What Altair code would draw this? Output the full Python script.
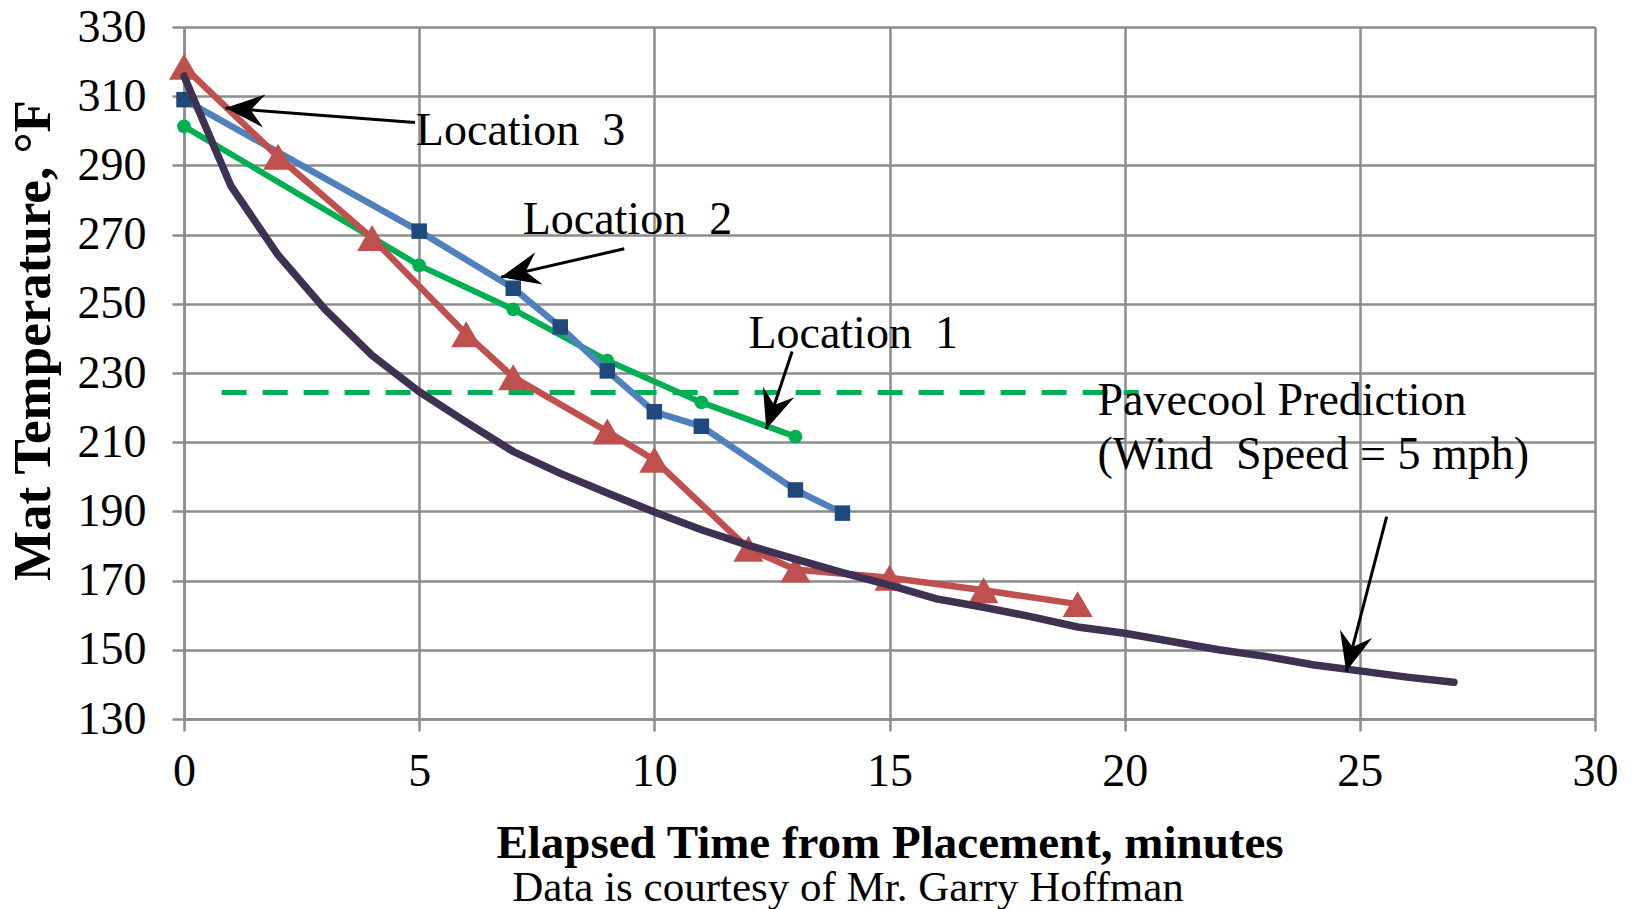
import math
import altair as alt
import pandas as pd

# ---------------- data ----------------
loc1_t = [0, 5, 7, 9, 11, 13]
loc1_v = [301.3, 261.1, 248.4, 233.6, 221.5, 211.6]

loc3_t = [0, 5, 7, 8, 9, 10, 11, 13, 14]
loc3_v = [309.0, 271.0, 254.5, 243.3, 230.6, 218.8, 214.6, 196.2, 189.5]

loc2_t = [0, 2, 4, 6, 7, 9, 10, 12, 13, 15, 17, 19]
loc2_v = [318.5, 292.5, 269.0, 241.2, 228.8, 213.1, 204.9, 179.2, 173.2, 170.8, 167.2, 163.2]

pave_t = list(range(0, 28))
pave_v = [315.8, 284.0, 264.1, 248.4, 235.1, 224.6, 215.8, 207.3, 201.0, 195.3,
          189.8, 184.7, 180.2, 176.2, 172.3, 168.7, 164.7, 162.3, 159.6, 156.6,
          154.8, 152.4, 150.0, 148.1, 145.7, 143.9, 142.1, 140.6]

pred_t = [0.8, 20.3]
pred_v = [224.4, 224.4]

ann_text = ["Location\u00a0 3", "Location\u00a0 2", "Location\u00a0 1",
            "Pavecool Prediction", "(Wind\u00a0 Speed = 5 mph)"]
ann_x = [4.93, 7.2, 12.0, 19.42, 19.42]
ann_y = [299.8, 274.1, 241.2, 221.9, 206.2]

arr_x1 = [4.91, 9.36, 12.93, 25.57]
arr_y1 = [302.4, 265.9, 236.2, 188.5]
arr_x2 = [0.88, 6.74, 12.38, 24.71]
arr_y2 = [306.6, 257.7, 213.8, 143.7]

x_ticks = [0, 5, 10, 15, 20, 25, 30]
y_ticks = [130, 150, 170, 190, 210, 230, 250, 270, 290, 310, 330]

x_title = "Elapsed Time from Placement, minutes"
y_title = "Mat Temperature, \u00b0F"
caption = "Data is courtesy of Mr. Garry Hoffman"

# ---------------- layout / style ----------------
W, H = 1411, 692
X_DOM, Y_DOM = [0, 30], [130, 330]
FONT = "Liberation Serif"
GRID = "#8c8c8c"

xscale = alt.Scale(domain=X_DOM, nice=False, zero=False)
yscale = alt.Scale(domain=Y_DOM, nice=False, zero=False)

xaxis = alt.Axis(values=x_ticks, grid=True, gridColor=GRID, gridWidth=2.5,
                 domainColor=GRID, domainWidth=2.5, tickColor=GRID, tickWidth=2.5,
                 tickSize=12, labelFont=FONT, labelFontSize=46, labelColor="black",
                 labelPadding=18, labelFlush=False, labelOverlap=False,
                 titleFont=FONT, titleFontSize=47, titleFontWeight="bold",
                 titleColor="black", titleX=W / 2, titleY=124,
                 titleBaseline="middle", titleAlign="center")
yaxis = alt.Axis(values=y_ticks, grid=True, gridColor=GRID, gridWidth=2.5,
                 domainColor=GRID, domainWidth=2.5, tickColor=GRID, tickWidth=2.5,
                 tickSize=12, labelFont=FONT, labelFontSize=46, labelColor="black",
                 labelPadding=26, labelFlush=False, labelOverlap=False,
                 titleFont=FONT, titleFontSize=53, titleFontWeight="bold",
                 titleColor="black", titleAngle=270, titleX=-151, titleY=313,
                 titleBaseline="middle", titleAlign="center")


def X(field):
    return alt.X(f"{field}:Q", scale=xscale, axis=xaxis, title=x_title)


def Y(field):
    return alt.Y(f"{field}:Q", scale=yscale, axis=yaxis, title=y_title)


def series(t, v):
    return pd.DataFrame({"t": t, "v": v})


d1 = series(loc1_t, loc1_v)
d3 = series(loc3_t, loc3_v)
d2 = series(loc2_t, loc2_v)
dp = series(pave_t, pave_v)
dpred = series(pred_t, pred_v)

pred = alt.Chart(dpred).mark_rule(color="#00b050", strokeWidth=5,
                                  strokeDash=[25, 16]).encode(
    x=X("t"), x2=alt.X2("t2:Q"), y=Y("v"))
dpred = pd.DataFrame({"t": [pred_t[0]], "t2": [pred_t[1]], "v": [pred_v[0]]})
pred = pred.properties(data=dpred)

g_line = alt.Chart(d1).mark_line(color="#00b050", strokeWidth=6).encode(x=X("t"), y=Y("v"))
g_pts = alt.Chart(d1).mark_circle(color="#00b050", size=190, opacity=1).encode(x=X("t"), y=Y("v"))

b_line = alt.Chart(d3).mark_line(color="#4f81bd", strokeWidth=6.5).encode(x=X("t"), y=Y("v"))
b_pts = alt.Chart(d3).mark_point(shape="square", filled=True, color="#1f497d",
                                 size=240, opacity=1).encode(x=X("t"), y=Y("v"))

r_line = alt.Chart(d2).mark_line(color="#c0504d", strokeWidth=6.5).encode(x=X("t"), y=Y("v"))
r_pts = alt.Chart(d2).mark_point(shape="triangle-up", filled=True, color="#c0504d",
                                 size=900, opacity=1).encode(x=X("t"), y=Y("v"))

p_line = alt.Chart(dp).mark_line(color="#3f3151", strokeWidth=7.5,
                                 strokeCap="round").encode(x=X("t"), y=Y("v"))

# arrows
px_x = W / (X_DOM[1] - X_DOM[0])
px_y = H / (Y_DOM[1] - Y_DOM[0])
angles = []
for a, b, c, d in zip(arr_x1, arr_y1, arr_x2, arr_y2):
    dx = (c - a) * px_x
    dy = -(d - b) * px_y
    angles.append(math.degrees(math.atan2(dy, dx)) % 360)
darr = pd.DataFrame({"x1": arr_x1, "y1": arr_y1, "x2": arr_x2, "y2": arr_y2, "ang": angles})

shafts = alt.Chart(darr).mark_rule(color="black", strokeWidth=3).encode(
    x=X("x1"), y=Y("y1"), x2="x2:Q", y2="y2:Q")
STEALTH = "M0,0 L-2,-0.85 L-1.3,0 L-2,0.85 Z"
heads = alt.Chart(darr).mark_point(shape=STEALTH, filled=True, color="black",
                                   size=1521, opacity=1, strokeWidth=0).encode(
    x=X("x2"), y=Y("y2"), angle=alt.Angle("ang:Q", scale=None))

dann = pd.DataFrame({"x": ann_x, "y": ann_y, "label": ann_text})
labels = alt.Chart(dann).mark_text(align="left", baseline="middle", font=FONT,
                                   fontSize=46, color="black").encode(
    x=X("x"), y=Y("y"), text="label:N")

dcap = pd.DataFrame({"c": [caption]})
cap = alt.Chart(dcap).mark_text(align="center", baseline="middle", font=FONT,
                                fontSize=43, color="black").encode(
    x=alt.value(664), y=alt.value(861), text="c:N")

chart = alt.layer(
    pred, g_line, g_pts, b_line, b_pts, r_line, r_pts, p_line,
    shafts, heads, labels, cap
).properties(
    width=W, height=H,
    autosize=alt.AutoSizeParams(type="none"),
    padding={"left": 184, "top": 27, "right": 44, "bottom": 190},
    background="white",
).configure_view(stroke=None)

chart.save("out.html", embed_options={"renderer": "svg", "actions": False})
